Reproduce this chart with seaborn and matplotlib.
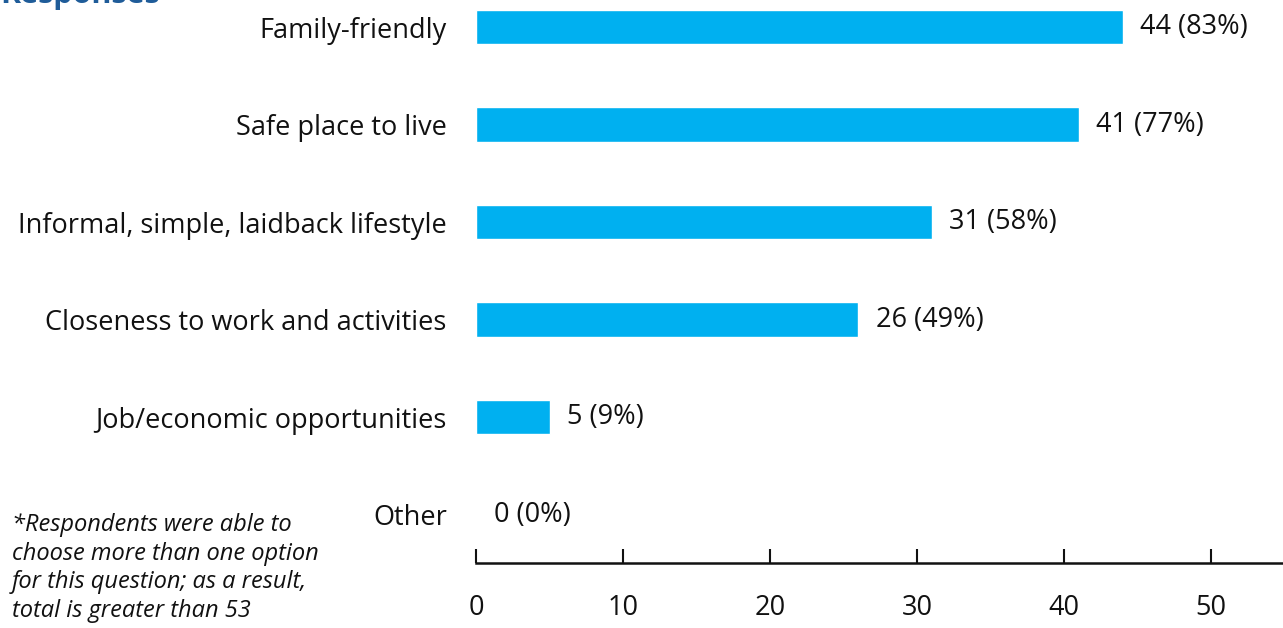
import matplotlib
matplotlib.use("Agg")
import matplotlib.pyplot as plt
import seaborn as sns
import pandas as pd

# Survey results: why respondents like living here
categories = [
    "Family-friendly",
    "Safe place to live",
    "Informal, simple, laidback lifestyle",
    "Closeness to work and activities",
    "Job/economic opportunities",
    "Other",
]
counts = [44, 41, 31, 26, 5, 0]
percents = [83, 77, 58, 49, 9, 0]
x_ticks = [0, 10, 20, 30, 40, 50]

df = pd.DataFrame({"category": categories, "count": counts})

sns.set_style("white")
plt.rcParams["font.family"] = ["Open Sans", "DejaVu Sans"]

W, H = 1283, 628
fig = plt.figure(figsize=(W / 100, H / 100), dpi=100)
ax = fig.add_axes([476 / W, 1 - 563 / H, (W - 476) / W, 563 / H])

sns.barplot(data=df, x="count", y="category", orient="h", color="#00B0F0",
            saturation=1, width=0.35, ax=ax)

ax.set_xlim(0, (W - 476) / 14.7)
ax.set_ylim(5.497, -0.277)
ax.set_xticks(x_ticks)
ax.set_xlabel("")
ax.set_ylabel("")

for s in ["top", "right", "left"]:
    ax.spines[s].set_visible(False)
ax.spines["bottom"].set_linewidth(1.8)
ax.spines["bottom"].set_color("#111111")

ax.tick_params(axis="x", bottom=True, direction="in", length=10, width=1.5,
               color="#111111", pad=22, labelsize=19.5, labelcolor="#111111")
ax.tick_params(axis="y", left=False, length=0, pad=21, labelsize=19.5,
               labelcolor="#111111")

# Value labels: count and share of respondents
for i, (c, p) in enumerate(zip(counts, percents)):
    ax.text(c + 1.2, i, f"{c} ({p}%)", va="center", ha="left",
            fontsize=19.5, color="#111111")

# Footnote
fig.text(12 / W, 1 - 568 / H,
         "*Respondents were able to\nchoose more than one option\nfor this question; as a result,\ntotal is greater than 53",
         fontsize=17, style="italic", color="#111111", ha="left", va="center",
         linespacing=1.25)

# Heading (partly above the top edge)
fig.text(0 / W, 1 - 3 / H, "Responses", fontsize=22, fontweight="bold",
         color="#1F5C99", ha="left", va="baseline")

fig.savefig("out.png", dpi=100)
